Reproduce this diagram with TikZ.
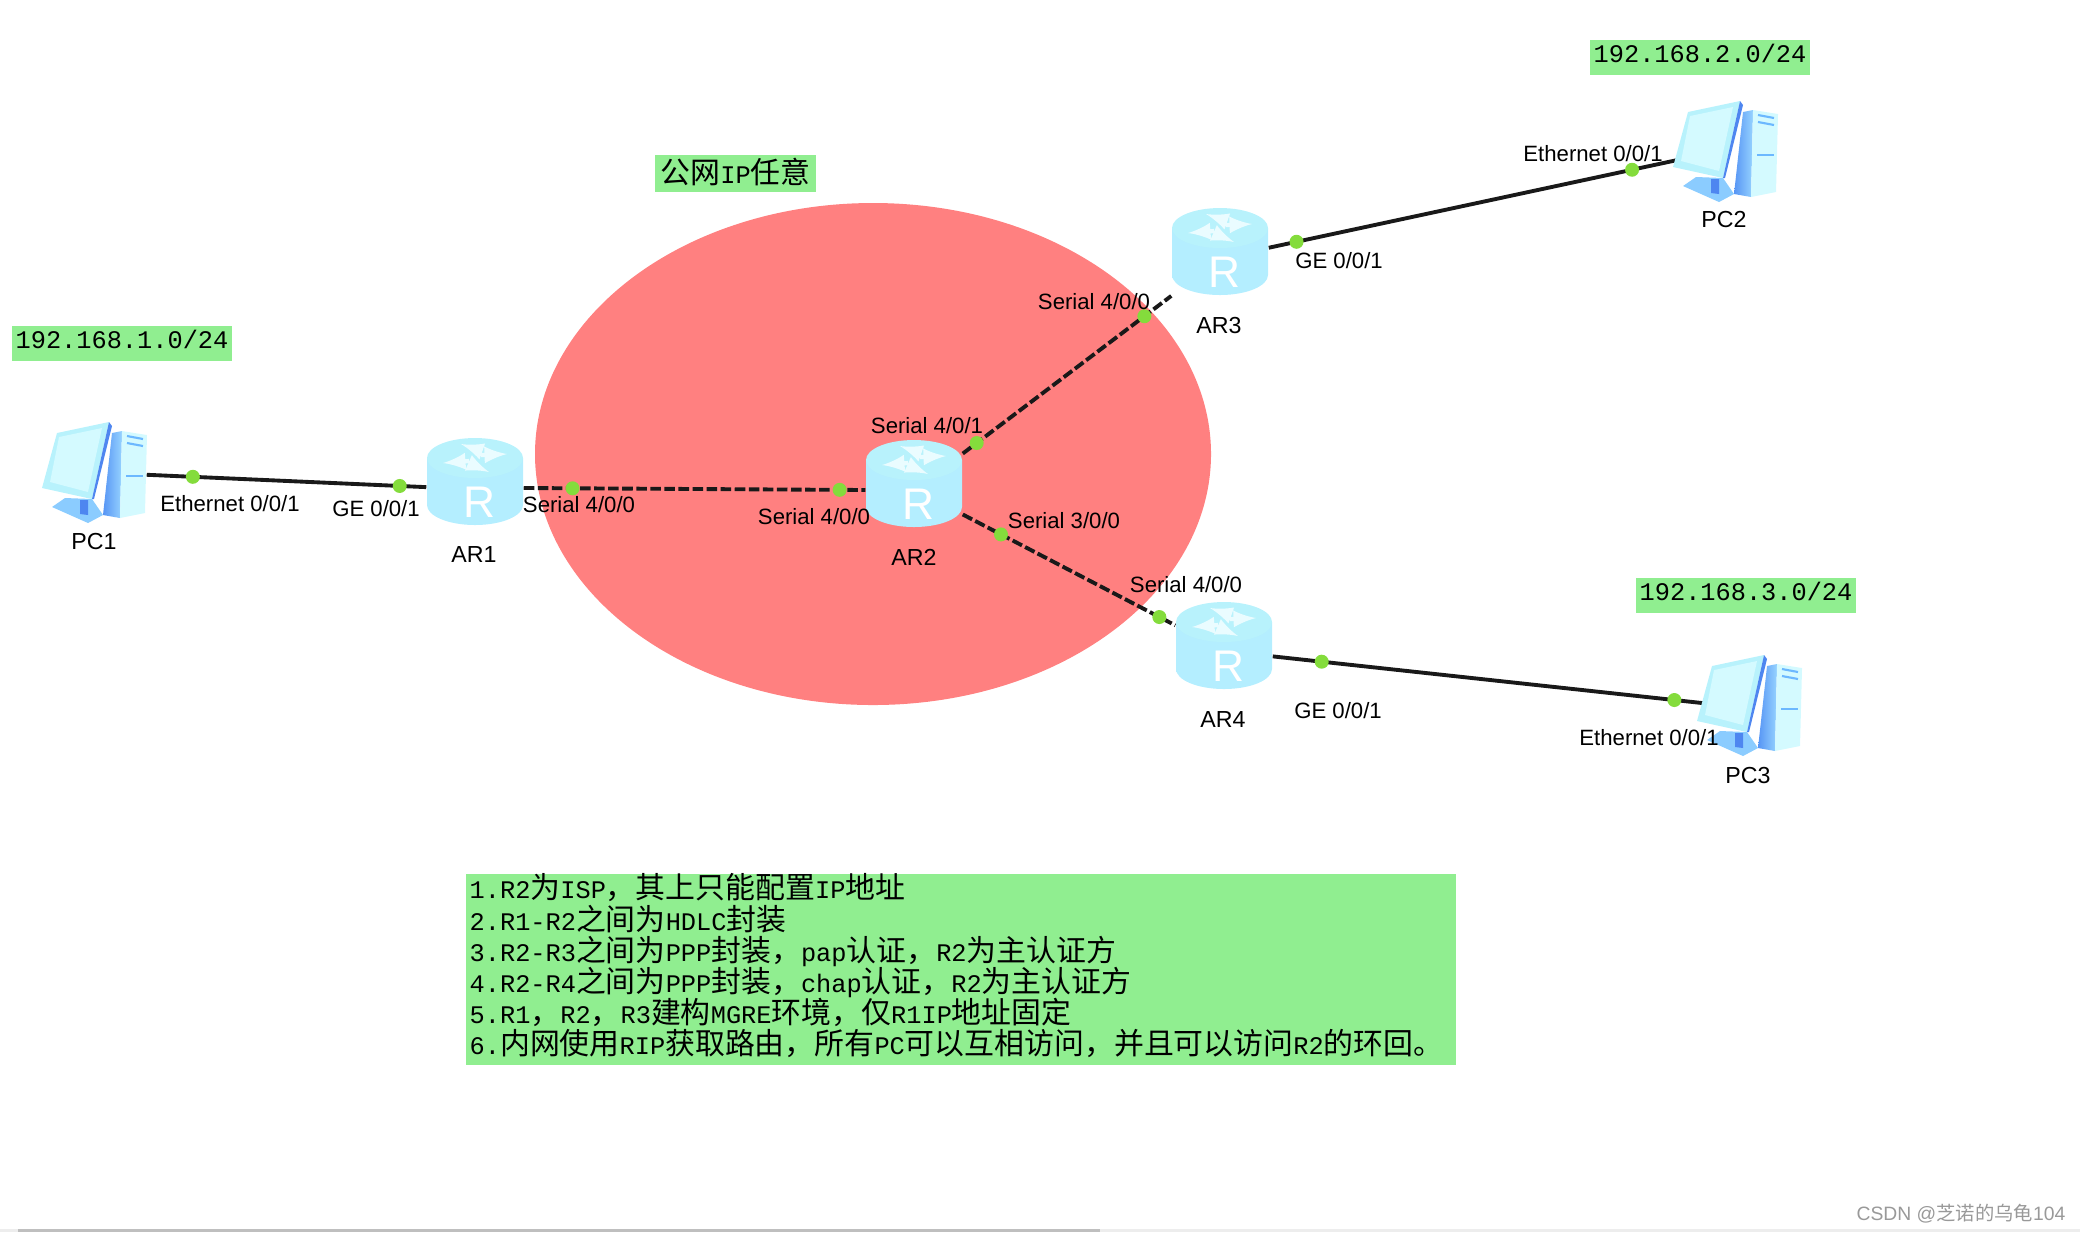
\documentclass[tikz,border=0pt]{standalone}
\usepackage{fontspec}
\setmainfont{Liberation Sans}
\setmonofont{Liberation Mono}
\newfontfamily\cjkfont{Noto Sans CJK SC}
\newcommand{\zh}[1]{{\fontsize{8.5}{8.85}\selectfont\cjkfont #1}}
\definecolor{cloudred}{HTML}{FF8080}
\definecolor{notegreen}{HTML}{90EE90}
\definecolor{portgreen}{HTML}{84DC3C}
\definecolor{iconblue}{HTML}{4E86F0}
\definecolor{iconmid}{HTML}{6CB8FF}
\definecolor{iconedge}{HTML}{B4EEFF}
\definecolor{icontop}{HTML}{B8F2FC}
\definecolor{iconpale}{HTML}{D4FAFF}
\tikzset{
  devbox/.style={minimum width=1.06cm,minimum height=1cm,inner sep=0pt},
  routerbox/.style={minimum width=.96cm,minimum height=.87cm,inner sep=0pt},
  portdot/.style={circle,fill=portgreen,minimum size=.14cm,inner sep=0pt},
  ethline/.style={line width=1.1pt,black!90},
  serline/.style={line width=1.1pt,black!90,dash pattern=on 3pt off 1pt},
  iflabel/.style={font=\fontsize{6.3}{7.5}\selectfont,inner sep=0pt,xshift=.01cm},
  devlabel/.style={font=\fontsize{6.6}{7.5}\selectfont,inner sep=0pt},
  lanlabel/.style={fill=notegreen,font=\fontsize{7.2}{8}\selectfont\ttfamily,minimum width=2.2cm,minimum height=.35cm,inner sep=0pt,text height=5pt,text depth=2pt},
  router/.pic={
    \shade[left color=iconedge,middle color=iconmid,right color=iconedge] (-48,-24) -- (-48,23) arc (180:0:48 and 20) -- (48,-24) -- cycle;
    \fill[icontop] (0,-24) ellipse (48 and 20);
    \draw[iconpale!50!white,line width=1.2pt,->,>=latex] (6,-27) -- (32,-28);
    \draw[iconpale!50!white,line width=1.2pt,->,>=latex] (-6,-21) -- (-32,-19);
    \draw[iconpale!50!white,line width=1.2pt,->,>=latex] (6,-31) -- (-14,-38);
    \draw[iconpale!50!white,line width=1.2pt,->,>=latex] (-4,-18) -- (14,-10);
    \node[white,font=\fontsize{12.6}{13}\selectfont,inner sep=0pt] (-r) at (4,20) {R};
  },
  pcicon/.pic={
    \shade[left color=iconblue!70!iconmid,right color=iconmid!60!iconpale] (19,-38) -- (29,-40) -- (27,47) -- (10,44) -- cycle;
    \fill[iconpale] (29,-40) -- (54,-36) -- (52,42) -- (27,47) -- cycle;
    \draw[iconmid,line width=.6pt] (34,-35) -- (50,-32);
    \draw[iconmid,line width=.6pt] (34,-28) -- (50,-25);
    \draw[iconmid,line width=.6pt] (33,5) -- (50,5);
    \fill[iconmid!70!iconpale] (-41,36) -- (-28,27) -- (-1,28) -- (10,44) -- (-5,52) -- cycle;
    \fill[iconblue] (-13,29) -- (-5,29) -- (-5,44) -- (-13,43) -- cycle;
    \fill[icontop] (-36,-38) -- (16,-49) -- (-1,28) -- (-51,17) -- cycle;
    \fill[iconblue] (16,-49) -- (19,-45) -- (1,28) -- (-1,28) -- cycle;
    \fill[iconpale] (-34,-34) -- (9,-43) -- (-5,21) -- (-43,11) -- cycle;
  }
}
\begin{document}
\begin{tikzpicture}[x=.01cm,y=-.01cm]
  \useasboundingbox (0,0) rectangle (2080,1232);
  \fill[cloudred] (873,454) ellipse (338 and 251);
  \node[devbox] (pc1) at (93,471) {};
  \node[devbox] (pc2) at (1724,150) {};
  \node[devbox] (pc3) at (1748,704) {};
  \coordinate (pc3in) at (1748,708);
  \node[routerbox] (ar1) at (475,482) {};
  \node[routerbox] (ar2) at (914,484) {};
  \node[routerbox] (ar3) at (1220,252) {};
  \node[routerbox] (ar4) at (1224,646) {};
  \draw[ethline] (pc1.-4) -- (ar1.186.5);
  \draw[serline] (ar1.-7) -- (ar2.187);
  \draw[serline] (ar2.32) -- (ar3.222.7);
  \draw[serline] (ar2.-32) -- (ar4.157);
  \draw[ethline] (ar3.5) -- (pc2.center);
  \draw[ethline] (ar4.-12.7) -- (pc3in);
  \pic (pc1icon) at (pc1) {pcicon};
  \pic (pc2icon) at (pc2) {pcicon};
  \pic (pc3icon) at (pc3) {pcicon};
  \pic (ar1icon) at (ar1) {router};
  \pic (ar2icon) at (ar2) {router};
  \pic (ar3icon) at (ar3) {router};
  \pic (ar4icon) at (ar4) {router};
  \path (pc1.-4) -- (ar1.186.5) node[portdot,pos=.165] (d1) {} node[portdot,pos=.905] (d2) {};
  \path (ar1.-7) -- (ar2.187) node[portdot,pos=.143] (d3) {} node[portdot,pos=.925] (d4) {};
  \path (ar2.32) -- (ar3.222.7) node[portdot,pos=.067] (d5) {} node[portdot,pos=.871] (d6) {};
  \path (ar2.-32) -- (ar4.157) node[portdot,pos=.18] (d7) {} node[portdot,pos=.925] (d8) {};
  \path (ar3.5) -- (pc2.center) node[portdot,pos=.061] (d9) {} node[portdot,pos=.798] (d10) {};
  \path (ar4.-12.7) -- (pc3in) node[portdot,pos=.103] (d11) {} node[portdot,pos=.845] (d12) {};
  \node[devlabel] (pc1name) at (94,541) {PC1};
  \node[devlabel] (pc2name) at (1724,219) {PC2};
  \node[devlabel] (pc3name) at (1748,775) {PC3};
  \node[devlabel] (ar1name) at (474,554) {AR1};
  \node[devlabel] (ar2name) at (914,557) {AR2};
  \node[devlabel] (ar3name) at (1219,325) {AR3};
  \node[devlabel] (ar4name) at (1223,719) {AR4};
  \node[iflabel] (pc1eth) at (229,504) {Ethernet 0/0/1};
  \node[iflabel] (ar1ge) at (375,509) {GE 0/0/1};
  \node[iflabel] (ar1ser) at (578,505) {Serial 4/0/0};
  \node[iflabel] (ar2ser0) at (813,517) {Serial 4/0/0};
  \node[iflabel] (ar2ser1) at (926,426) {Serial 4/0/1};
  \node[iflabel] (ar3ser) at (1093,302) {Serial 4/0/0};
  \node[iflabel] (ar2ser3) at (1063,521) {Serial 3/0/0};
  \node[iflabel] (ar4ser) at (1185,585) {Serial 4/0/0};
  \node[iflabel] (ar3ge) at (1338,261) {GE 0/0/1};
  \node[iflabel] (pc2eth) at (1592,154) {Ethernet 0/0/1};
  \node[iflabel] (ar4ge) at (1337,711) {GE 0/0/1};
  \node[iflabel] (pc3eth) at (1648,738) {Ethernet 0/0/1};
  \node[lanlabel] (lan1) at (122,343.5) {192.168.1.0/24};
  \node[lanlabel] (lan2) at (1700,57) {192.168.2.0/24};
  \node[lanlabel] (lan3) at (1746,595) {192.168.3.0/24};
  \node[lanlabel,minimum width=1.61cm,minimum height=.37cm,text height=7pt,text depth=1.5pt] (wan) at (735.5,173.5) {\zh{公网}IP\zh{任意}};
  \node[fill=notegreen,font=\fontsize{7.2}{8.85}\selectfont\ttfamily,align=left,text width=9.82cm,minimum height=1.91cm,inner xsep=.04cm,inner ysep=0pt,text depth=1.63cm,text height=.22cm] (note) at (961,969.5) {1.R2\zh{为}ISP\zh{，其上只能配置}IP\zh{地址}\\
    2.R1-R2\zh{之间为}HDLC\zh{封装}\\
    3.R2-R3\zh{之间为}PPP\zh{封装，}pap\zh{认证，}R2\zh{为主认证方}\\
    4.R2-R4\zh{之间为}PPP\zh{封装，}chap\zh{认证，}R2\zh{为主认证方}\\
    5.R1\zh{，}R2\zh{，}R3\zh{建构}MGRE\zh{环境，仅}R1IP\zh{地址固定}\\
    6.\zh{内网使用}RIP\zh{获取路由，所有}PC\zh{可以互相访问，并且可以访问}R2\zh{的环回。}};
  \node[anchor=east,text=black!40,font=\fontsize{5.5}{6}\selectfont,inner sep=0pt] (mark) at (2066,1214) {CSDN @{\cjkfont 芝诺的乌龟}104};
  \fill[black!7] (0,1229) rectangle (2080,1232);
  \fill[black!25] (18,1229) rectangle (1100,1232);
\end{tikzpicture}
\end{document}
